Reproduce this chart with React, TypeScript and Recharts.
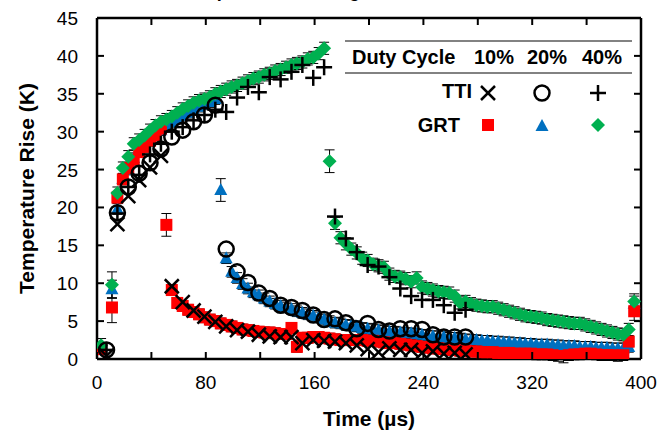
import React from "react";
import { ScatterChart, Scatter, XAxis, YAxis, ErrorBar } from "recharts";

const FONT = "'Liberation Sans', Arial, sans-serif";
const RED = "#FF0000";
const BLUE = "#0070C0";
const GREEN = "#00B050";

// GRT sampling times (µs)
const GRT_TIME = [
  3,
  11, 15, 19, 23, 27, 31, 35, 39, 43, 47,
  51, 55, 59, 63, 67, 71, 75, 79, 83, 87,
  91, 95, 99, 103, 107, 111, 115, 119, 123, 127,
  131, 135, 139, 143, 147, 151, 155, 159, 163, 167,
  171, 175, 179, 183, 187, 191, 195, 199, 203, 207,
  211, 215, 219, 223, 227, 231, 235, 239, 243, 247,
  251, 255, 259, 263, 267, 271, 275, 279, 283, 287,
  291, 295, 299, 303, 307, 311, 315, 319, 323, 327,
  331, 335, 339, 343, 347, 351, 355, 359, 363, 367,
  371, 375, 379, 383, 387, 391, 395,
];

// GRT temperature rise (K), 10 / 20 / 40 % duty cycle
const GRT_10 = [
  1.3,
  6.8, 21.3, 23.7, 25.2, 26.3, 27.3, 28.0, 28.8, 29.5, 30.4,
  17.7, 9.1, 7.4, 7.0, 6.5, 6.2, 5.9, 5.5, 5.2, 5.0,
  4.7, 4.5, 4.3, 4.1, 3.9, 3.8, 3.7, 3.6, 3.5, 3.5,
  3.4, 3.3, 3.3, 4.1, 1.6, 2.8, 2.8, 2.9, 2.9, 2.8,
  2.7, 2.6, 2.5, 2.5, 2.5, 2.5, 2.5, 2.4, 2.4, 2.3,
  2.2, 2.1, 2.1, 2.0, 1.9, 1.8, 1.7, 1.6, 1.5, 1.4,
  1.4, 1.3, 1.2, 1.2, 1.1, 1.1, 1.0, 1.0, 0.9, 0.9,
  0.9, 0.8, 0.8, 0.8, 0.7, 0.7, 0.7, 0.7, 0.6, 0.6,
  0.6, 0.5, 0.4, 0.2, 0.5, 0.6, 0.6, 0.7, 0.7, 0.6,
  0.5, 0.5, 0.5, 0.4, 0.5, 2.3, 6.3,
];
const GRT_20 = [
  1.5,
  9.2, 19.8, 23.8, 25.0, 26.5, 27.3, 28.2, 28.9, 29.6, 30.2,
  30.7, 31.2, 31.7, 32.1, 32.5, 32.9, 33.3, 33.6, 33.9, 34.3,
  22.3, 13.3, 11.5, 10.7, 9.9, 9.3, 8.8, 8.4, 8.0, 7.6,
  7.3, 7.0, 6.8, 6.6, 6.3, 6.1, 5.9, 5.7, 5.5, 5.2,
  5.0, 4.8, 4.7, 4.5, 4.4, 4.3, 4.1, 4.0, 3.9, 3.8,
  3.7, 3.6, 3.6, 3.5, 3.4, 3.4, 3.3, 3.2, 3.1, 3.0,
  3.0, 2.9, 2.8, 2.8, 2.7, 2.6, 2.5, 2.5, 2.4, 2.4,
  2.3, 2.3, 2.2, 2.2, 2.1, 2.1, 2.0, 2.0, 1.9, 1.9,
  1.9, 1.8, 1.8, 1.7, 1.7, 1.7, 1.6, 1.6, 1.6, 1.5,
  1.5, 1.5, 1.4, 1.4, 1.4, 1.6, 7.3,
];
const GRT_40 = [
  1.8,
  9.8, 21.9, 25.2, 26.7, 28.4, 28.9, 29.5, 30.2, 30.8, 31.3,
  31.6, 32.0, 32.5, 33.0, 33.4, 33.8, 34.1, 34.3, 34.6, 35.0,
  35.3, 35.6, 35.9, 36.1, 36.4, 36.7, 37.0, 37.2, 37.5, 37.7,
  38.0, 38.2, 38.5, 38.8, 39.0, 39.2, 39.6, 39.8, 40.3, 41.0,
  26.1, 17.9, 16.0, 15.2, 14.5, 14.0, 13.3, 13.0, 12.5, 12.3,
  12.1, 11.2, 10.9, 10.8, 10.6, 10.2, 10.7, 9.5, 9.3, 9.1,
  8.9, 8.8, 8.7, 8.3, 7.4, 7.6, 7.3, 7.1, 7.0, 6.9,
  6.9, 6.7, 6.5, 6.3, 6.1, 5.9, 5.7, 5.6, 5.5, 5.4,
  5.2, 5.1, 5.0, 4.9, 4.8, 4.7, 4.7, 4.5, 4.3, 4.1,
  3.9, 3.7, 3.5, 3.3, 3.2, 3.9, 7.6,
];

// typical error bar half-height per GRT series, and the wider ones
const GRT_10_ERR = 0.7;
const GRT_20_ERR = 0.7;
const GRT_40_ERR = 0.8;
const GRT_10_WIDE: [number, number][] = [[11, 2.0], [51, 1.5], [395, 1.2]];
const GRT_20_WIDE: [number, number][] = [[11, 1.2], [91, 1.5], [395, 1.0]];
const GRT_40_WIDE: [number, number][] = [[3, 0.9], [11, 1.7], [171, 1.5], [395, 1.0]];

// TTI sampling times (µs) and temperature rise (K)
const TTI_TIME = [
  7, 15, 23, 31, 39, 47, 55, 63, 71, 79, 87, 95, 103, 111, 119, 127, 135,
  143, 151, 159, 167, 175, 183, 191, 199, 207, 215, 223, 231, 239, 247, 255,
  263, 271,
];
const TTI_10 = [
  0.4, 17.8, 21.5, 23.6, 25.3, 26.8, 9.6, 7.5, 6.4, 5.6, 4.9, 4.3, 3.8, 3.6,
  3.2, 3.0, 2.9, 2.9, 2.1, 2.5, 2.4, 2.3, 2.1, 1.8, 1.3, 0.9, 1.4, 1.2, 1.2,
  0.8, 1.0, 0.7, 0.8, 0.6,
];
const TTI_20 = [
  1.2, 19.3, 22.7, 24.5, 25.9, 27.7, 29.3, 30.2, 31.3, 32.2, 33.5, 14.5, 11.5,
  10.1, 8.7, 8.0, 7.1, 6.8, 6.4, 5.8, 5.2, 5.3, 4.8, 4.0, 4.7, 3.9, 3.7, 4.0,
  4.0, 3.9, 3.2, 2.9, 2.9, 2.9,
];
const TTI_40 = [
  1.2, 19.2, 22.7, 24.3, 27.0, 28.4, 30.0, 30.6, 31.5, 32.2, 32.9, 32.6, 34.5,
  35.9, 35.2, 37.2, 36.9, 37.9, 38.8, 37.1, 38.5, 18.8, 15.9, 14.1, 12.4, 12.2,
  10.8, 9.3, 8.3, 7.8, 7.8, 7.1, 6.1, 6.5,
];

const X_TICKS = [0, 40, 80, 120, 160, 200, 240, 280, 320, 360, 400];
const X_LABELS = [0, 80, 160, 240, 320, 400];
const Y_TICKS = [0, 5, 10, 15, 20, 25, 30, 35, 40, 45];

const W = 662;
const H = 436;
const PLOT = { left: 97, right: 641, top: 18, bottom: 359 };
const TICK = 7;

type Pt = { t: number; v: number; err?: number };

function points(times: number[], vals: number[], err?: number, wide: [number, number][] = []): Pt[] {
  return times.map((t, i) => {
    const w = wide.find((d) => d[0] === t);
    return { t, v: vals[i], err: err == null ? undefined : w ? w[1] : err };
  });
}

const Square = ({ cx, cy }: any) => (
  <rect x={cx - 6} y={cy - 6} width={12} height={12} fill={RED} />
);
const Triangle = ({ cx, cy }: any) => (
  <polygon points={`${cx},${cy - 7} ${cx + 6.5},${cy + 5} ${cx - 6.5},${cy + 5}`} fill={BLUE} />
);
const Diamond = ({ cx, cy }: any) => (
  <polygon points={`${cx},${cy - 7} ${cx + 7},${cy} ${cx},${cy + 7} ${cx - 7},${cy}`} fill={GREEN} />
);
const XMark = ({ cx, cy }: any) => (
  <g stroke="#000" strokeWidth={2.5}>
    <line x1={cx - 7} y1={cy - 7} x2={cx + 7} y2={cy + 7} />
    <line x1={cx - 7} y1={cy + 7} x2={cx + 7} y2={cy - 7} />
  </g>
);
const Ring = ({ cx, cy }: any) => (
  <circle cx={cx} cy={cy} r={7.5} fill="none" stroke="#000" strokeWidth={2.5} />
);
const Plus = ({ cx, cy }: any) => (
  <g stroke="#000" strokeWidth={2.5}>
    <line x1={cx - 8} y1={cy} x2={cx + 8} y2={cy} />
    <line x1={cx} y1={cy - 8} x2={cx} y2={cy + 8} />
  </g>
);

const BottomTick = ({ x, payload }: any) => (
  <g>
    <line x1={x} x2={x} y1={PLOT.bottom} y2={PLOT.bottom - TICK} stroke="#000" strokeWidth={2} />
    {X_LABELS.includes(payload.value) && (
      <text x={x} y={PLOT.bottom + 30} textAnchor="middle" fontSize={19} fontFamily={FONT} fill="#000">
        {payload.value}
      </text>
    )}
  </g>
);
const TopTick = ({ x }: any) => (
  <line x1={x} x2={x} y1={PLOT.top} y2={PLOT.top + TICK} stroke="#000" strokeWidth={2} />
);
const LeftTick = ({ y, payload }: any) => (
  <g>
    <line x1={PLOT.left} x2={PLOT.left + TICK} y1={y} y2={y} stroke="#000" strokeWidth={2} />
    <text x={PLOT.left - 19} y={y + 7} textAnchor="end" fontSize={19} fontFamily={FONT} fill="#000">
      {payload.value}
    </text>
  </g>
);
const RightTick = ({ y }: any) => (
  <line x1={PLOT.right} x2={PLOT.right - TICK} y1={y} y2={y} stroke="#000" strokeWidth={2} />
);

const axisLine = { stroke: "#000", strokeWidth: 2.5 };
const errProps = { dataKey: "err", direction: "y" as const, width: 5, strokeWidth: 1, stroke: "#000" };

function Legend() {
  const bold = { fontFamily: FONT, fontWeight: 700, fontSize: 20, fill: "#000" };
  const cols = [488, 542, 598];
  return (
    <g>
      <rect x={345} y={34} width={287} height={108} fill="#fff" />
      <line x1={345} x2={632} y1={41} y2={41} stroke="#595959" strokeWidth={1.5} />
      <line x1={345} x2={632} y1={73} y2={73} stroke="#595959" strokeWidth={1.5} />
      <text x={352} y={64} {...bold}>Duty Cycle</text>
      <text x={494} y={64} textAnchor="middle" {...bold}>10%</text>
      <text x={547} y={64} textAnchor="middle" {...bold}>20%</text>
      <text x={602} y={64} textAnchor="middle" {...bold}>40%</text>
      <text x={472} y={98} textAnchor="end" {...bold}>TTI</text>
      <text x={460} y={132} textAnchor="end" {...bold}>GRT</text>
      <XMark cx={cols[0]} cy={93} />
      <Ring cx={cols[1]} cy={93} />
      <Plus cx={cols[2]} cy={93} />
      <Square cx={cols[0]} cy={125} />
      <Triangle cx={cols[1]} cy={126} />
      <Diamond cx={cols[2]} cy={125} />
    </g>
  );
}

export default function App() {
  return (
    <div style={{ position: "absolute", left: 0, top: 0, width: W, height: H, overflow: "hidden", background: "#fff" }}>
      <ScatterChart width={W} height={H} margin={{ top: PLOT.top - 1, right: W - PLOT.right - 1, bottom: 0, left: 0 }}>
        <XAxis
          dataKey="t"
          type="number"
          domain={[0, 400]}
          ticks={X_TICKS}
          interval={0}
          height={H - PLOT.bottom}
          axisLine={axisLine}
          tickLine={false}
          tick={<BottomTick />}
          allowDataOverflow
        />
        <XAxis
          xAxisId="top"
          dataKey="t"
          orientation="top"
          type="number"
          domain={[0, 400]}
          ticks={X_TICKS}
          interval={0}
          height={1}
          axisLine={axisLine}
          tickLine={false}
          tick={<TopTick />}
          allowDataOverflow
        />
        <YAxis
          dataKey="v"
          type="number"
          domain={[0, 45]}
          ticks={Y_TICKS}
          interval={0}
          width={PLOT.left}
          axisLine={axisLine}
          tickLine={false}
          tick={<LeftTick />}
          allowDataOverflow
        />
        <YAxis
          yAxisId="right"
          dataKey="v"
          orientation="right"
          type="number"
          domain={[0, 45]}
          ticks={Y_TICKS}
          interval={0}
          width={1}
          axisLine={axisLine}
          tickLine={false}
          tick={<RightTick />}
          allowDataOverflow
        />
        {/* empty series so the mirrored frame axes are drawn */}
        <Scatter xAxisId="top" yAxisId="right" data={[]} isAnimationActive={false} />
        <Scatter data={points(GRT_TIME, GRT_20, GRT_20_ERR, GRT_20_WIDE)} shape={<Triangle />} isAnimationActive={false}>
          <ErrorBar {...errProps} />
        </Scatter>
        <Scatter data={points(GRT_TIME, GRT_10, GRT_10_ERR, GRT_10_WIDE)} shape={<Square />} isAnimationActive={false}>
          <ErrorBar {...errProps} />
        </Scatter>
        <Scatter data={points(GRT_TIME, GRT_40, GRT_40_ERR, GRT_40_WIDE)} shape={<Diamond />} isAnimationActive={false}>
          <ErrorBar {...errProps} />
        </Scatter>
        <Scatter data={points(TTI_TIME, TTI_10)} shape={<XMark />} isAnimationActive={false} />
        <Scatter data={points(TTI_TIME, TTI_20)} shape={<Ring />} isAnimationActive={false} />
        <Scatter data={points(TTI_TIME, TTI_40)} shape={<Plus />} isAnimationActive={false} />
      </ScatterChart>
      <svg width={W} height={H} style={{ position: "absolute", left: 0, top: 0, pointerEvents: "none" }}>
        <text x={181} y={-3} fontFamily={FONT} fontWeight={700} fontSize={18} fill="#000">
          Temperature Rise Agreement
        </text>
        <text
          transform={`translate(26, ${(PLOT.top + PLOT.bottom) / 2}) rotate(-90)`}
          textAnchor="middle"
          dominantBaseline="central"
          fontFamily={FONT}
          fontWeight={700}
          fontSize={21}
          fill="#000"
        >
          Temperature Rise (K)
        </text>
        <text x={(PLOT.left + PLOT.right) / 2} y={426} textAnchor="middle" fontFamily={FONT} fontWeight={700} fontSize={21} fill="#000">
          Time (µs)
        </text>
        <Legend />
      </svg>
    </div>
  );
}
